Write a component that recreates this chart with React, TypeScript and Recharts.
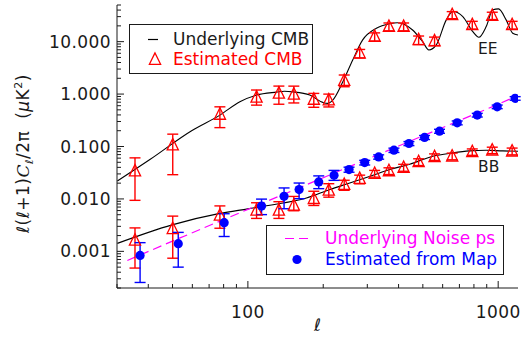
import React from 'react';
import { ComposedChart, Line, Scatter, XAxis, YAxis, ErrorBar, Legend } from 'recharts';

const W = 524;
const H = 343;
const FONT = '"DejaVu Sans", "Liberation Sans", sans-serif';
const INK = '#1a1a1a';
const RED = '#FF0000';
const BLUE = '#0000FF';
const MAGENTA = '#FF00FF';

// ---------- data ----------
// multipole bins of the estimated CMB spectra
const binEll = [35.4, 50.1, 77.3, 108.3, 133, 152.6, 183.4, 210.5, 242.6, 279.7, 321, 366, 419, 481, 557, 655, 788, 947, 1137];
// estimated EE
const eeEst = [0.034, 0.106, 0.409, 0.865, 1.03, 0.987, 0.79, 0.768, 1.81, 6.0, 12.5, 19.4, 19.4, 10.8, 10.3, 32.4, 20.9, 31.4, 20.9];
const eeErrLow = [0.0246, 0.077, 0.18, 0.25, 0.39, 0.31, 0.23, 0.2, 0.43, 1.1, 2.2, 3.3, 3.3, 2.0, 1.9, 5, 3.5, 5, 3.5];
const eeErrHigh = [0.0267, 0.066, 0.162, 0.33, 0.39, 0.43, 0.24, 0.23, 0.5, 1.1, 2.2, 3.3, 3.3, 2.0, 1.9, 5, 3.5, 5, 3.5];
// estimated BB
const bbEst = [0.00162, 0.0027, 0.00486, 0.00605, 0.00605, 0.00755, 0.0101, 0.0146, 0.0188, 0.0244, 0.0305, 0.0342, 0.0397, 0.0508, 0.0633, 0.0653, 0.0789, 0.085, 0.0813];
const bbErrLow = [0.00114, 0.00196, 0.0021, 0.0018, 0.0018, 0.0016, 0.0026, 0.0038, 0.0042, 0.005, 0.0045, 0.005, 0.006, 0.0075, 0.009, 0.0095, 0.011, 0.012, 0.012];
const bbErrHigh = [0.00118, 0.002, 0.0025, 0.0024, 0.0028, 0.0036, 0.0039, 0.0049, 0.0039, 0.004, 0.0045, 0.005, 0.006, 0.0075, 0.009, 0.0095, 0.011, 0.012, 0.012];
// noise estimated from map
const mapEll = [37.1, 52.7, 80.4, 113.4, 139.5, 160.2, 191.9, 220.9, 253.6, 292.9, 333.1, 383.3, 440, 508, 583, 686, 825, 991, 1169];
const mapEst = [0.000835, 0.0014, 0.00352, 0.00732, 0.0112, 0.0151, 0.0211, 0.0283, 0.0363, 0.0494, 0.0633, 0.085, 0.114, 0.149, 0.196, 0.283, 0.397, 0.572, 0.828];
const mapErrLow = [0.00058, 0.0009, 0.0016, 0.0023, 0.0047, 0.005, 0.0054, 0.0057, 0.004, 0.005, 0.006, 0.008, 0.01, 0.013, 0.017, 0.024, 0.032, 0.045, 0.065];
const mapErrHigh = [0.00063, 0.0009, 0.0017, 0.0026, 0.005, 0.005, 0.0064, 0.0067, 0.004, 0.005, 0.006, 0.008, 0.01, 0.013, 0.017, 0.024, 0.032, 0.045, 0.065];

// underlying EE curve
const eeCurveEll = [30.1, 40.6, 59.6, 77.3, 92.9, 108.3, 130.2, 140, 151.6, 176.7, 199.2, 208.5, 218.3, 239.3, 262.3, 287.5, 326.1, 368.5, 395, 420, 455.1, 499, 528.6, 565.8, 620.4, 659, 722.4, 792, 836.8, 895.6, 951.7, 1003, 1076, 1143, 1200];
const eeCurveVal = [0.022, 0.0565, 0.2, 0.397, 0.713, 0.957, 1.09, 1.13, 1.1, 0.957, 0.694, 0.664, 0.768, 1.695, 4.47, 10.8, 18.0, 22.0, 23.0, 21.5, 16.7, 10.0, 6.94, 8.65, 26.0, 37.5, 30.1, 15.5, 12.1, 19.4, 40.4, 42.2, 26.0, 14.5, 13.4];
// underlying BB curve
const bbCurveEll = [30.1, 49.8, 77.3, 100, 138.3, 171.4, 212.4, 255.3, 316, 368.5, 442.9, 548, 659, 768, 896, 1043, 1200];
const bbCurveVal = [0.00142, 0.0032, 0.0053, 0.00647, 0.00835, 0.0104, 0.0151, 0.0201, 0.0283, 0.0363, 0.0459, 0.0653, 0.0755, 0.0824, 0.085, 0.0824, 0.0813];
// underlying noise power spectrum
const noiseEll = [33, 50, 100, 200, 400, 700, 1000, 1200];
const noiseVal = [0.00067, 0.00157, 0.00633, 0.0254, 0.102, 0.313, 0.638, 0.94];

// axes
const xMajor = [100, 1000];
const xMajorLabels = ['100', '1000'];
const xMinor = [30, 40, 50, 60, 70, 80, 90, 200, 300, 400, 500, 600, 700, 800, 900];
const yMajor = [0.001, 0.01, 0.1, 1, 10];
const yMajorLabels = ['0.001', '0.010', '0.100', '1.000', '10.000'];
const yMinor = [
  0.0002, 0.0003, 0.0004, 0.0005, 0.0006, 0.0007, 0.0008, 0.0009,
  0.002, 0.003, 0.004, 0.005, 0.006, 0.007, 0.008, 0.009,
  0.02, 0.03, 0.04, 0.05, 0.06, 0.07, 0.08, 0.09,
  0.2, 0.3, 0.4, 0.5, 0.6, 0.7, 0.8, 0.9,
  2, 3, 4, 5, 6, 7, 8, 9,
  20, 30, 40, 50,
];
const xTicks = [...xMinor, ...xMajor].sort((a, b) => a - b);
const yTicks = [...yMinor, ...yMajor].sort((a, b) => a - b);

// ---------- rows ----------
const eeRows = binEll.map((l, i) => ({ l, v: eeEst[i], e: [eeErrLow[i], eeErrHigh[i]] }));
const bbRows = binEll.map((l, i) => ({ l, v: bbEst[i], e: [bbErrLow[i], bbErrHigh[i]] }));
const mapRows = mapEll.map((l, i) => ({ l, v: mapEst[i], e: [mapErrLow[i], mapErrHigh[i]] }));
const eeCurve = eeCurveEll.map((l, i) => ({ l, v: eeCurveVal[i] }));
const bbCurve = bbCurveEll.map((l, i) => ({ l, v: bbCurveVal[i] }));
const noiseCurve = noiseEll.map((l, i) => ({ l, v: noiseVal[i] }));

const MAJ = 7;
const MIN = 4;

const LeftTick = (p: any) => {
  const { x, y, payload } = p;
  const k = yMajor.indexOf(payload.value);
  const len = k >= 0 ? MAJ : MIN;
  return (
    <g>
      <line x1={x} x2={x + len} y1={y} y2={y} stroke={INK} strokeWidth={1} />
      {k >= 0 && (
        <text x={x - 6} y={y + 6} textAnchor="end" fontFamily={FONT} fontSize={17} letterSpacing={0.4} fill={INK}>
          {yMajorLabels[k]}
        </text>
      )}
    </g>
  );
};
const RightTick = (p: any) => {
  const { x, y, payload } = p;
  const len = yMajor.indexOf(payload.value) >= 0 ? MAJ : MIN;
  return <line x1={x} x2={x - len} y1={y} y2={y} stroke={INK} strokeWidth={1} />;
};
const BottomTick = (p: any) => {
  const { x, y, payload } = p;
  const k = xMajor.indexOf(payload.value);
  const len = k >= 0 ? MAJ : MIN;
  return (
    <g>
      <line x1={x} x2={x} y1={y} y2={y - len} stroke={INK} strokeWidth={1} />
      {k >= 0 && (
        <text x={x} y={y + 30} textAnchor="middle" fontFamily={FONT} fontSize={17} letterSpacing={0.4} fill={INK}>
          {xMajorLabels[k]}
        </text>
      )}
    </g>
  );
};
const TopTick = (p: any) => {
  const { x, y, payload } = p;
  const len = xMajor.indexOf(payload.value) >= 0 ? MAJ : MIN;
  return <line x1={x} x2={x} y1={y} y2={y + len} stroke={INK} strokeWidth={1} />;
};

const Tri = (p: any) => {
  const { cx, cy } = p;
  if (cx == null || cy == null) return null;
  return (
    <polygon
      points={`${cx},${cy - 6.6} ${cx - 5.6},${cy + 4.8} ${cx + 5.6},${cy + 4.8}`}
      fill="none"
      stroke={RED}
      strokeWidth={1.3}
    />
  );
};
const Dot = (p: any) => {
  const { cx, cy } = p;
  if (cx == null || cy == null) return null;
  return <circle cx={cx} cy={cy} r={4.6} fill={BLUE} />;
};

const XLabel = (p: any) => {
  const vb = p.viewBox || { x: 117, y: 288, width: 401, height: 55 };
  return (
    <text x={vb.x + vb.width / 2} y={vb.y + 43} textAnchor="middle" fontFamily={FONT} fontStyle="italic" fontSize={17} fill={INK}>
      ℓ
    </text>
  );
};
const YLabel = (p: any) => {
  const vb = p.viewBox || { x: 0, y: 5, width: 117, height: 283 };
  const cx = 29;
  const cy = vb.y + vb.height / 2 + 7;
  return (
    <text transform={`translate(${cx},${cy}) rotate(-90)`} textAnchor="middle" fontFamily={FONT} fontSize={17} letterSpacing={0.5} fill={INK}>
      <tspan fontStyle="italic">ℓ</tspan>
      <tspan>(</tspan>
      <tspan fontStyle="italic">ℓ</tspan>
      <tspan>+1)</tspan>
      <tspan fontFamily='"DejaVu Serif", serif' fontStyle="italic">C</tspan>
      <tspan fontSize={11} dy={4} fontStyle="italic">ℓ</tspan>
      <tspan dy={-4}>/2π{'\u00A0\u00A0'}(</tspan>
      <tspan fontStyle="italic">μ</tspan>
      <tspan>K</tspan>
      <tspan fontSize={11} dy={-7}>2</tspan>
      <tspan dy={7}>)</tspan>
    </text>
  );
};

const Overlay = () => (
  <div style={{ position: 'relative', width: W, height: H, fontFamily: FONT, pointerEvents: 'none' }}>
    {/* CMB legend */}
    <div style={{ position: 'absolute', left: 129, top: 24, width: 184, height: 50, border: `1px solid ${INK}`, boxSizing: 'border-box' }} />
    <svg style={{ position: 'absolute', left: 0, top: 0 }} width={W} height={H}>
      <line x1={148} x2={158} y1={39.5} y2={39.5} stroke="#000" strokeWidth={1.2} />
      <polygon points={`155,${59.5 - 6.6} ${155 - 5.6},${59.5 + 4.8} ${155 + 5.6},${59.5 + 4.8}`} fill="none" stroke={RED} strokeWidth={1.3} />
      <line x1={285} x2={312} y1={238.5} y2={238.5} stroke={MAGENTA} strokeWidth={1.2} strokeDasharray="9 5" />
      <circle cx={297} cy={259.5} r={4.6} fill={BLUE} />
    </svg>
    <div style={{ position: 'absolute', left: 173, top: 29, fontSize: 17, lineHeight: '20px', color: INK, whiteSpace: 'nowrap' }}>Underlying CMB</div>
    <div style={{ position: 'absolute', left: 173, top: 49, fontSize: 17, lineHeight: '20px', color: RED, whiteSpace: 'nowrap' }}>Estimated CMB</div>
    {/* noise legend */}
    <div style={{ position: 'absolute', left: 266, top: 225, width: 238, height: 50, border: `1px solid ${INK}`, boxSizing: 'border-box' }} />
    <div style={{ position: 'absolute', left: 325, top: 228, fontSize: 17, lineHeight: '20px', color: MAGENTA, whiteSpace: 'nowrap' }}>Underlying Noise ps</div>
    <div style={{ position: 'absolute', left: 325, top: 249, fontSize: 17, lineHeight: '20px', color: BLUE, whiteSpace: 'nowrap' }}>Estimated from Map</div>
    {/* spectrum annotations */}
    <div style={{ position: 'absolute', left: 478, top: 40, fontSize: 15.5, lineHeight: '18px', color: INK }}>EE</div>
    <div style={{ position: 'absolute', left: 478, top: 158, fontSize: 15.5, lineHeight: '18px', color: INK }}>BB</div>
  </div>
);

export default function App() {
  return (
    <div style={{ position: 'absolute', left: 0, top: 0, width: W, height: H, background: '#fff' }}>
      <ComposedChart width={W} height={H} margin={{ top: 5, right: 6, bottom: 0, left: 0 }}>
        <XAxis
          xAxisId="b"
          orientation="bottom"
          dataKey="l"
          type="number"
          scale="log"
          domain={[30, 1200]}
          allowDataOverflow
          ticks={xTicks}
          interval={0}
          height={55}
          tickSize={0}
          tickMargin={0}
          tickLine={false}
          axisLine={{ stroke: INK }}
          tick={BottomTick}
          label={{ content: XLabel }}
        />
        <XAxis
          xAxisId="t"
          orientation="top"
          dataKey="l"
          type="number"
          scale="log"
          domain={[30, 1200]}
          allowDataOverflow
          ticks={xTicks}
          interval={0}
          height={0}
          tickSize={0}
          tickMargin={0}
          tickLine={false}
          axisLine={{ stroke: INK }}
          tick={TopTick}
        />
        <YAxis
          yAxisId="l"
          orientation="left"
          dataKey="v"
          type="number"
          scale="log"
          domain={[0.0002, 50]}
          allowDataOverflow
          ticks={yTicks}
          interval={0}
          width={117}
          tickSize={0}
          tickMargin={0}
          tickLine={false}
          axisLine={{ stroke: INK }}
          tick={LeftTick}
          label={{ content: YLabel }}
        />
        <YAxis
          yAxisId="r"
          orientation="right"
          dataKey="v"
          type="number"
          scale="log"
          domain={[0.0002, 50]}
          allowDataOverflow
          ticks={yTicks}
          interval={0}
          width={0}
          tickSize={0}
          tickMargin={0}
          tickLine={false}
          axisLine={{ stroke: INK }}
          tick={RightTick}
        />
        <Line xAxisId="b" yAxisId="l" data={eeCurve} dataKey="v" type="monotone" stroke="#000" strokeWidth={1.1} dot={false} activeDot={false} isAnimationActive={false} />
        <Line xAxisId="b" yAxisId="l" data={bbCurve} dataKey="v" type="monotone" stroke="#000" strokeWidth={1.1} dot={false} activeDot={false} isAnimationActive={false} />
        <Line xAxisId="b" yAxisId="l" data={noiseCurve} dataKey="v" type="linear" stroke={MAGENTA} strokeWidth={1.2} strokeDasharray="9 5" dot={false} activeDot={false} isAnimationActive={false} />
        <Scatter xAxisId="b" yAxisId="l" data={eeRows} dataKey="v" shape={Tri} isAnimationActive={false}>
          <ErrorBar dataKey="e" direction="y" width={5.5} stroke={RED} strokeWidth={1.4} />
        </Scatter>
        <Scatter xAxisId="b" yAxisId="l" data={bbRows} dataKey="v" shape={Tri} isAnimationActive={false}>
          <ErrorBar dataKey="e" direction="y" width={5.5} stroke={RED} strokeWidth={1.4} />
        </Scatter>
        <Scatter xAxisId="b" yAxisId="l" data={mapRows} dataKey="v" shape={Dot} isAnimationActive={false}>
          <ErrorBar dataKey="e" direction="y" width={5.5} stroke={BLUE} strokeWidth={1.4} />
        </Scatter>
        <Legend
          layout="horizontal"
          align="center"
          verticalAlign="middle"
          wrapperStyle={{ position: 'absolute', left: 0, top: 0, width: W, height: H, pointerEvents: 'none' }}
          content={Overlay}
        />
      </ComposedChart>
    </div>
  );
}
